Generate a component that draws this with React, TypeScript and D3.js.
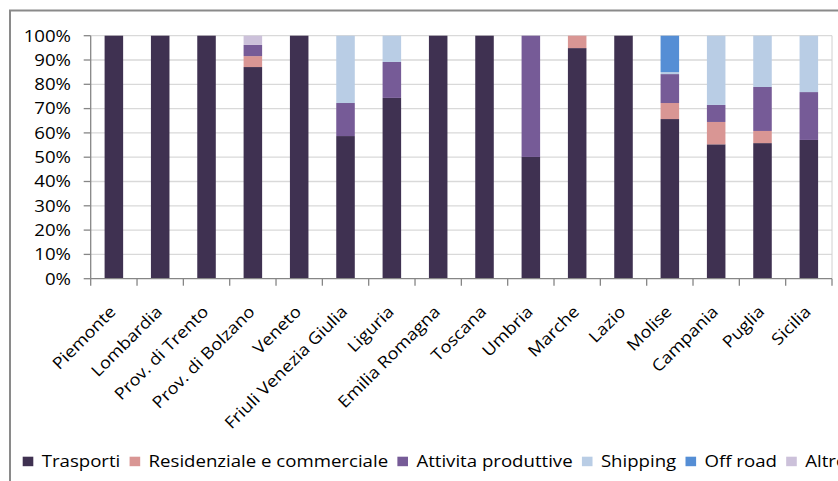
import React, { useEffect, useRef, useState } from "react";
import * as d3 from "d3";

const categories = [
  "Piemonte", "Lombardia", "Prov. di Trento", "Prov. di Bolzano", "Veneto",
  "Friuli Venezia Giulia", "Liguria", "Emilia Romagna", "Toscana", "Umbria",
  "Marche", "Lazio", "Molise", "Campania", "Puglia", "Sicilia",
];
const seriesNames = ["Trasporti", "Residenziale e commerciale", "Attivita produttive", "Shipping", "Off road", "Altro"];
const seriesColors = ["#3f3151", "#d99694", "#765b97", "#b9cde5", "#558ed5", "#ccc1da"];

const trasporti = [100, 100, 100, 87.1, 100, 58.7, 74.4, 100, 100, 50.1, 94.9, 100, 65.7, 55.3, 55.8, 57.1];
const residenziale = [0, 0, 0, 4.5, 0, 0, 0, 0, 0, 0, 5.1, 0, 6.6, 9.2, 5.0, 0];
const attivita = [0, 0, 0, 4.6, 0, 13.6, 14.8, 0, 0, 49.9, 0, 0, 11.9, 7.0, 18.1, 19.7];
const shipping = [0, 0, 0, 0, 0, 27.7, 10.8, 0, 0, 0, 0, 0, 0.8, 28.5, 21.1, 23.2];
const offroad = [0, 0, 0, 0, 0, 0, 0, 0, 0, 0, 0, 0, 15.0, 0, 0, 0];
const altro = [0, 0, 0, 3.8, 0, 0, 0, 0, 0, 0, 0, 0, 0, 0, 0, 0];
const yTicks = [0, 0.1, 0.2, 0.3, 0.4, 0.5, 0.6, 0.7, 0.8, 0.9, 1];

const W = 838;
const H = 481;
const X0 = 90.7;
const X1 = 832;
const Y0 = 278.7;
const Y1 = 35.7;
const SX = 1.15;
const FONT = "'Open Sans', sans-serif";

export default function App() {
  const legendRefs = useRef<(SVGTextElement | null)[]>([]);
  const [widths, setWidths] = useState<number[]>(seriesNames.map(() => 80));

  useEffect(() => {
    const w = legendRefs.current.map((t) => (t ? t.getComputedTextLength() : 80));
    setWidths(w);
  }, []);

  const allSeries = [trasporti, residenziale, attivita, shipping, offroad, altro];
  const table = categories.map((c, i) => {
    const row: any = { cat: c };
    seriesNames.forEach((s, k) => (row[s] = allSeries[k][i]));
    return row;
  });
  const stacked = d3.stack().keys(seriesNames).offset(d3.stackOffsetExpand)(table);

  const x = d3.scaleBand<string>().domain(categories).range([X0, X1]).paddingInner(0.6).paddingOuter(0.3);
  const y = d3.scaleLinear().domain([0, 1]).range([Y0, Y1]);
  const boundaries = d3.range(categories.length + 1).map((i) => X0 + (X1 - X0) * (i / categories.length));

  // legend layout
  const legendX: number[] = [];
  let cur = 22.7;
  widths.forEach((w) => {
    legendX.push(cur);
    cur += 10.6 + 8.4 + w * SX + 9.3;
  });

  return (
    <div style={{ position: "absolute", left: 0, top: 0 }}>
      <svg width={W} height={H} style={{ display: "block", background: "#fff" }}>
        <rect x={10} y={10.5} width={900} height={600} fill="#fff" stroke="#8a8a8a" strokeWidth={2} />
        {/* gridlines */}
        {yTicks.slice(1).map((t) => (
          <line key={"g" + t} x1={X0} x2={X1} y1={y(t)} y2={y(t)} stroke="#d9d9d9" strokeWidth={1.3} />
        ))}
        <line x1={X1} x2={X1} y1={Y1} y2={Y0} stroke="#d0d0d0" strokeWidth={1} />
        {/* bars */}
        {stacked.map((s, k) => (
          <g key={s.key} fill={seriesColors[k]}>
            {s.map((d, i) =>
              d[1] - d[0] > 0 ? (
                <rect
                  key={i}
                  x={x(categories[i])!}
                  width={x.bandwidth()}
                  y={y(d[1])}
                  height={y(d[0]) - y(d[1])}
                />
              ) : null
            )}
          </g>
        ))}
        {/* axes */}
        <line x1={X0} x2={X0} y1={Y1} y2={Y0} stroke="#868686" strokeWidth={1.3} />
        <line x1={X0} x2={X1} y1={Y0} y2={Y0} stroke="#868686" strokeWidth={1.3} />
        {yTicks.map((t) => (
          <g key={"t" + t}>
            <line x1={X0 - 7} x2={X0} y1={y(t)} y2={y(t)} stroke="#868686" strokeWidth={1.3} />
            <text
              transform={`translate(71,${y(t)}) scale(${SX},1)`}
              dy="0.36em"
              textAnchor="end"
              fontFamily={FONT}
              fontSize={16.2}
              fill="#000"
            >
              {d3.format(".0%")(t)}
            </text>
          </g>
        ))}
        {boundaries.map((b, i) => (
          <line key={"xt" + i} x1={b} x2={b} y1={Y0} y2={Y0 + 7} stroke="#868686" strokeWidth={1.3} />
        ))}
        {categories.map((c) => {
          const cx = x(c)! + x.bandwidth() / 2;
          return (
            <text
              key={c}
              transform={`translate(${cx + 3},${Y0 + 34}) rotate(-45) scale(1.12,1)`}
              textAnchor="end"
              fontFamily={FONT}
              fontSize={16.3}
              fill="#000"
            >
              {c}
            </text>
          );
        })}
        {/* legend */}
        {seriesNames.map((s, k) => (
          <g key={"l" + s}>
            <rect x={legendX[k]} y={456.7} width={10.6} height={9.5} fill={seriesColors[k]} />
            <text
              ref={(el) => {
                legendRefs.current[k] = el;
              }}
              transform={`translate(${legendX[k] + 19},467) scale(${SX},1)`}
              fontFamily={FONT}
              fontSize={16.2}
              fill="#000"
            >
              {s}
            </text>
          </g>
        ))}
      </svg>
    </div>
  );
}
